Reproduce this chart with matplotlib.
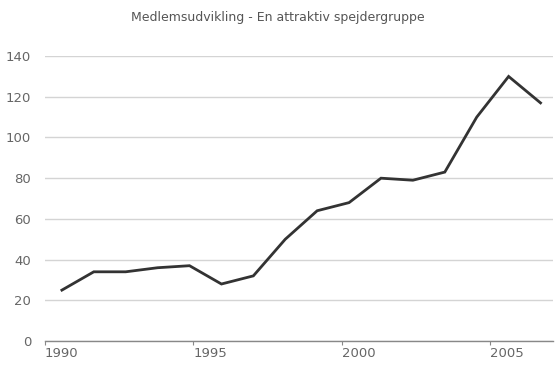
import matplotlib
matplotlib.use('Agg')
import matplotlib.pyplot as plt

# Medlemstal pr. år
years = list(range(1990, 2006))
members = [25, 34, 34, 36, 37, 28, 32, 50, 64, 68, 80, 79, 83, 110, 130, 117]

tick_years = [1990, 1995, 2000, 2005]
y_ticks = [0, 20, 40, 60, 80, 100, 120, 140]

TITLE = 'Medlemsudvikling - En attraktiv spejdergruppe'


def label_position(year):
    # the printed year labels sit on a slightly compressed scale
    # relative to the plotted points (as in the original chart)
    return 1989.47 + (year - 1990) * 0.93


def create_plot():
    fig = plt.figure(figsize=(5.58, 3.69), dpi=100)
    ax = fig.add_axes([0.0806, 0.0759, 0.9104, 0.7721])

    ax.plot(years, members, color='#333333', linewidth=2.0, solid_joinstyle='miter')

    ax.set_xlim(1989.47, 2005.39)
    ax.set_ylim(0, 140)

    ax.set_yticks(y_ticks)
    ax.set_yticklabels([str(v) for v in y_ticks])
    ax.grid(axis='y', color='#d4d4d4', linewidth=1.0)
    ax.set_axisbelow(True)

    ax.set_xticks([label_position(y) for y in tick_years])
    ax.set_xticklabels([str(y) for y in tick_years])
    for lbl in ax.get_xticklabels():
        lbl.set_horizontalalignment('left')

    for side in ['top', 'right', 'left']:
        ax.spines[side].set_visible(False)
    ax.spines['bottom'].set_color('#888888')
    ax.spines['bottom'].set_linewidth(1.0)

    ax.tick_params(axis='y', length=0, pad=10, labelsize=9.5, labelcolor='#666666')
    ax.tick_params(axis='x', length=3, direction='out', color='#888888',
                   pad=1, labelsize=9.5, labelcolor='#666666')

    fig.text(0.497, 0.953, TITLE, ha='center', va='center', fontsize=9, color='#555555')

    fig.savefig('out.png', dpi=100, facecolor='white')
    plt.close(fig)


def main():
    create_plot()


if __name__ == '__main__':
    main()
